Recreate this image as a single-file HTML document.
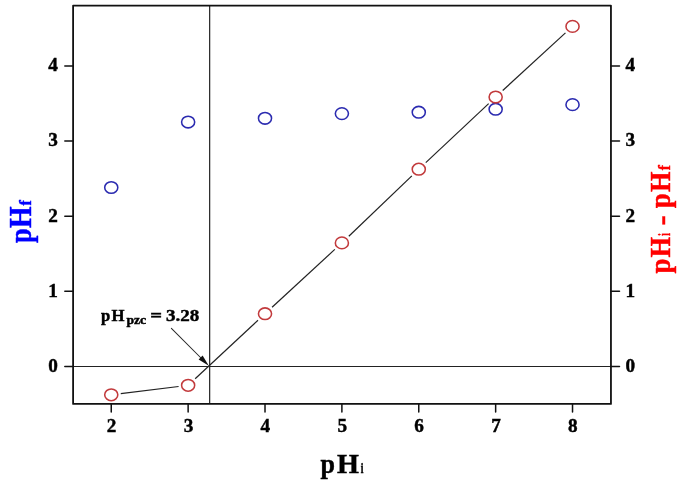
<!DOCTYPE html><html><head><meta charset="utf-8"><style>html,body{margin:0;padding:0;background:#fff;overflow:hidden;}svg{display:block;will-change:transform;}text{font-family:"Liberation Serif",serif;font-weight:bold;font-kerning:none;white-space:pre;stroke-width:0.45px;}</style></head><body>
<svg width="685" height="485" viewBox="0 0 685 485">
<rect width="685" height="485" fill="#fff"/>
<line x1="73.1" y1="366.5" x2="610.95" y2="366.5" stroke="#222" stroke-width="1.2"/>
<line x1="209.66" y1="5.6" x2="209.66" y2="403.95" stroke="#222" stroke-width="1.2"/>
<line x1="120.78" y1="393.62" x2="178.60" y2="386.48" stroke="#222" stroke-width="1.2"/>
<line x1="195.16" y1="378.76" x2="257.98" y2="320.24" stroke="#222" stroke-width="1.2"/>
<line x1="272.07" y1="307.20" x2="334.83" y2="249.40" stroke="#222" stroke-width="1.2"/>
<line x1="348.82" y1="236.26" x2="411.84" y2="175.84" stroke="#222" stroke-width="1.2"/>
<line x1="425.77" y1="162.63" x2="488.65" y2="103.57" stroke="#222" stroke-width="1.2"/>
<line x1="502.72" y1="90.51" x2="565.46" y2="32.89" stroke="#222" stroke-width="1.2"/>
<rect x="73.1" y="5.6" width="537.85" height="398.34999999999997" fill="none" stroke="#111" stroke-width="1.8" stroke-linejoin="round"/>
<line x1="64.8" y1="366.50" x2="73.1" y2="366.50" stroke="#111" stroke-width="1.5" stroke-linecap="round"/>
<line x1="610.95" y1="366.50" x2="619.5" y2="366.50" stroke="#111" stroke-width="1.5" stroke-linecap="round"/>
<text x="57.9" y="371.90" font-size="19.2" text-anchor="end" stroke="#000">0</text>
<text x="625.4" y="371.90" font-size="19.2" stroke="#000">0</text>
<line x1="64.8" y1="291.35" x2="73.1" y2="291.35" stroke="#111" stroke-width="1.5" stroke-linecap="round"/>
<line x1="610.95" y1="291.35" x2="619.5" y2="291.35" stroke="#111" stroke-width="1.5" stroke-linecap="round"/>
<text x="57.9" y="296.75" font-size="19.2" text-anchor="end" stroke="#000">1</text>
<text x="625.4" y="296.75" font-size="19.2" stroke="#000">1</text>
<line x1="64.8" y1="216.20" x2="73.1" y2="216.20" stroke="#111" stroke-width="1.5" stroke-linecap="round"/>
<line x1="610.95" y1="216.20" x2="619.5" y2="216.20" stroke="#111" stroke-width="1.5" stroke-linecap="round"/>
<text x="57.9" y="221.60" font-size="19.2" text-anchor="end" stroke="#000">2</text>
<text x="625.4" y="221.60" font-size="19.2" stroke="#000">2</text>
<line x1="64.8" y1="141.05" x2="73.1" y2="141.05" stroke="#111" stroke-width="1.5" stroke-linecap="round"/>
<line x1="610.95" y1="141.05" x2="619.5" y2="141.05" stroke="#111" stroke-width="1.5" stroke-linecap="round"/>
<text x="57.9" y="146.45" font-size="19.2" text-anchor="end" stroke="#000">3</text>
<text x="625.4" y="146.45" font-size="19.2" stroke="#000">3</text>
<line x1="64.8" y1="65.90" x2="73.1" y2="65.90" stroke="#111" stroke-width="1.5" stroke-linecap="round"/>
<line x1="610.95" y1="65.90" x2="619.5" y2="65.90" stroke="#111" stroke-width="1.5" stroke-linecap="round"/>
<text x="57.9" y="71.30" font-size="19.2" text-anchor="end" stroke="#000">4</text>
<text x="625.4" y="71.30" font-size="19.2" stroke="#000">4</text>
<line x1="111.25" y1="403.95" x2="111.25" y2="412.0" stroke="#111" stroke-width="1.5" stroke-linecap="round"/>
<text x="111.55" y="432.1" font-size="19.2" text-anchor="middle" stroke="#000">2</text>
<line x1="188.13" y1="403.95" x2="188.13" y2="412.0" stroke="#111" stroke-width="1.5" stroke-linecap="round"/>
<text x="188.43" y="432.1" font-size="19.2" text-anchor="middle" stroke="#000">3</text>
<line x1="265.01" y1="403.95" x2="265.01" y2="412.0" stroke="#111" stroke-width="1.5" stroke-linecap="round"/>
<text x="265.31" y="432.1" font-size="19.2" text-anchor="middle" stroke="#000">4</text>
<line x1="341.89" y1="403.95" x2="341.89" y2="412.0" stroke="#111" stroke-width="1.5" stroke-linecap="round"/>
<text x="342.19" y="432.1" font-size="19.2" text-anchor="middle" stroke="#000">5</text>
<line x1="418.77" y1="403.95" x2="418.77" y2="412.0" stroke="#111" stroke-width="1.5" stroke-linecap="round"/>
<text x="419.07" y="432.1" font-size="19.2" text-anchor="middle" stroke="#000">6</text>
<line x1="495.65" y1="403.95" x2="495.65" y2="412.0" stroke="#111" stroke-width="1.5" stroke-linecap="round"/>
<text x="495.95" y="432.1" font-size="19.2" text-anchor="middle" stroke="#000">7</text>
<line x1="572.53" y1="403.95" x2="572.53" y2="412.0" stroke="#111" stroke-width="1.5" stroke-linecap="round"/>
<text x="572.83" y="432.1" font-size="19.2" text-anchor="middle" stroke="#000">8</text>
<ellipse cx="111.25" cy="187.50" rx="6.55" ry="5.85" fill="none" stroke="#2b2bb0" stroke-width="1.55"/>
<ellipse cx="188.13" cy="122.00" rx="6.55" ry="5.85" fill="none" stroke="#2b2bb0" stroke-width="1.55"/>
<ellipse cx="265.01" cy="118.25" rx="6.55" ry="5.85" fill="none" stroke="#2b2bb0" stroke-width="1.55"/>
<ellipse cx="341.89" cy="113.60" rx="6.55" ry="5.85" fill="none" stroke="#2b2bb0" stroke-width="1.55"/>
<ellipse cx="418.77" cy="112.20" rx="6.55" ry="5.85" fill="none" stroke="#2b2bb0" stroke-width="1.55"/>
<ellipse cx="495.65" cy="109.20" rx="6.55" ry="5.85" fill="none" stroke="#2b2bb0" stroke-width="1.55"/>
<ellipse cx="572.53" cy="104.65" rx="6.55" ry="5.85" fill="none" stroke="#2b2bb0" stroke-width="1.55"/>
<ellipse cx="111.25" cy="394.80" rx="6.55" ry="5.85" fill="none" stroke="#c23a3c" stroke-width="1.55"/>
<ellipse cx="188.13" cy="385.30" rx="6.55" ry="5.85" fill="none" stroke="#c23a3c" stroke-width="1.55"/>
<ellipse cx="265.01" cy="313.70" rx="6.55" ry="5.85" fill="none" stroke="#c23a3c" stroke-width="1.55"/>
<ellipse cx="341.89" cy="242.90" rx="6.55" ry="5.85" fill="none" stroke="#c23a3c" stroke-width="1.55"/>
<ellipse cx="418.77" cy="169.20" rx="6.55" ry="5.85" fill="none" stroke="#c23a3c" stroke-width="1.55"/>
<ellipse cx="495.65" cy="97.00" rx="6.55" ry="5.85" fill="none" stroke="#c23a3c" stroke-width="1.55"/>
<ellipse cx="572.53" cy="26.40" rx="6.55" ry="5.85" fill="none" stroke="#c23a3c" stroke-width="1.55"/>
<line x1="171.4" y1="328.4" x2="203" y2="360" stroke="#2a2a2a" stroke-width="1.05" stroke-linecap="round"/>
<path d="M208.8,365.8 L198.6,359.4 L202.6,355.4 Z" fill="#111"/>
<text transform="translate(101.09,320.80) scale(0.9521,1)" font-size="17.50" fill="#000" stroke="#000" stroke-width="0.45">p</text>
<text transform="translate(111.46,320.80) scale(0.9671,1)" font-size="17.30" fill="#000" stroke="#000" stroke-width="0.45">H</text>
<text transform="translate(126.38,324.30) scale(1.0114,1)" font-size="13.50" fill="#000" stroke="#000" stroke-width="0.45">pzc</text>
<text transform="translate(150.22,320.80) scale(1.1938,1)" font-size="17.30" fill="#000" stroke="#000" stroke-width="0.45">=</text>
<text transform="translate(166.03,320.80) scale(1.1015,1)" font-size="17.30" fill="#000" stroke="#000" stroke-width="0.45">3.28</text>
<text transform="translate(320.52,472.90) scale(0.9303,1)" font-size="28.00" fill="#000" stroke="#000" stroke-width="0">p</text>
<text transform="translate(336.97,472.90) scale(1.0225,1)" font-size="27.60" fill="#000" stroke="#000" stroke-width="0">H</text>
<text transform="translate(360.74,472.90) scale(0.6668,1)" font-size="14.30" fill="#000" stroke="#000" stroke-width="0">i</text>
<text transform="translate(30.90,243.08) rotate(-90) scale(0.8605,1)" font-size="30.50" fill="#0000ff" stroke="#0000ff" stroke-width="0">p</text>
<text transform="translate(30.90,227.93) rotate(-90) scale(0.8831,1)" font-size="31.50" fill="#0000ff" stroke="#0000ff" stroke-width="0">H</text>
<text transform="translate(30.90,205.57) rotate(-90) scale(0.9576,1)" font-size="16.50" fill="#0000ff" stroke="#0000ff" stroke-width="0">f</text>
<text transform="translate(670.40,273.49) rotate(-90) scale(0.9032,1)" font-size="29.50" fill="#ff0000" stroke="#ff0000" stroke-width="0">p</text>
<text transform="translate(670.40,257.40) rotate(-90) scale(0.8824,1)" font-size="30.00" fill="#ff0000" stroke="#ff0000" stroke-width="0">H</text>
<text transform="translate(670.40,235.65) rotate(-90) scale(0.5429,1)" font-size="16.80" fill="#ff0000" stroke="#ff0000" stroke-width="0">i</text>
<text transform="translate(671.00,225.32) rotate(-90) scale(0.9593,1)" font-size="30.50" fill="#ff0000" stroke="#ff0000" stroke-width="0">-</text>
<text transform="translate(670.40,208.19) rotate(-90) scale(0.9032,1)" font-size="29.50" fill="#ff0000" stroke="#ff0000" stroke-width="0">p</text>
<text transform="translate(670.40,192.00) rotate(-90) scale(0.8780,1)" font-size="30.00" fill="#ff0000" stroke="#ff0000" stroke-width="0">H</text>
<text transform="translate(670.40,170.26) rotate(-90) scale(0.9327,1)" font-size="16.30" fill="#ff0000" stroke="#ff0000" stroke-width="0">f</text>
</svg></body></html>
